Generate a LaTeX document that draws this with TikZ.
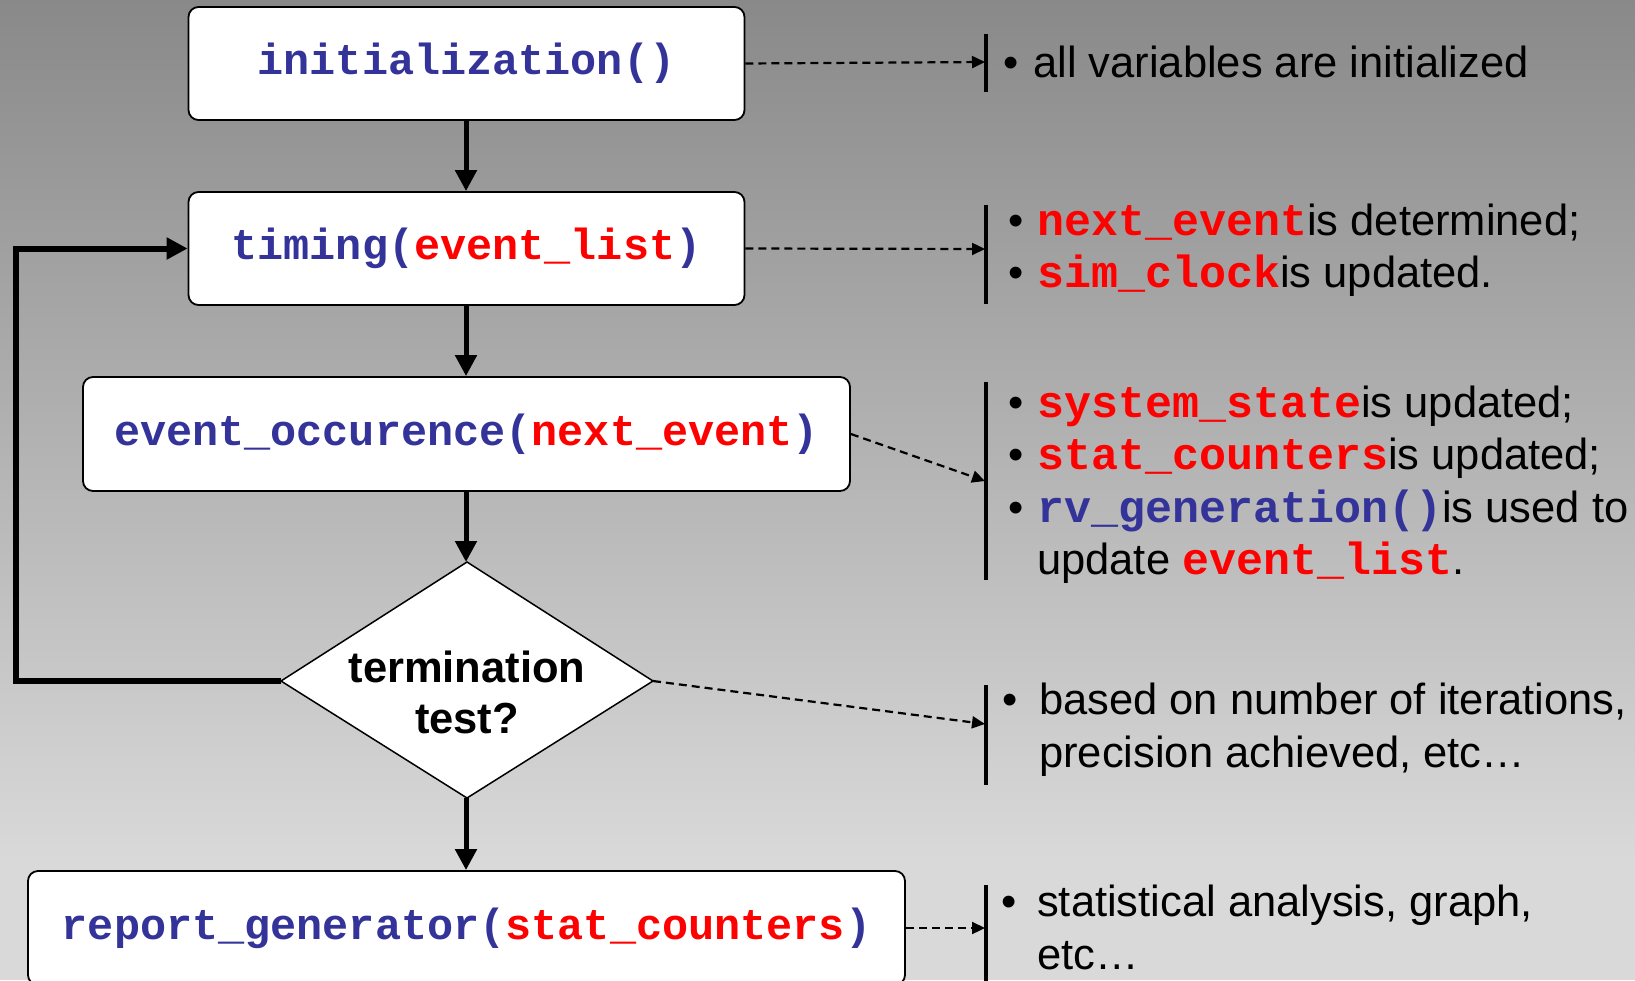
\documentclass[tikz,border=0pt]{standalone}
\usepackage{fontspec}
\setmainfont{Liberation Sans}
\newfontfamily\codefont{Liberation Mono}
\usetikzlibrary{arrows.meta}
\definecolor{cblue}{RGB}{51,51,153}
\definecolor{cred}{RGB}{255,0,0}
\definecolor{bgtop}{RGB}{137,137,137}
\definecolor{bgbot}{RGB}{217,217,217}
\newcommand\bl[1]{{\color{cblue}#1}}
\newcommand\rd[1]{{\color{cred}#1}}
\newcommand\low[1]{\raisebox{-3pt}{#1}}
\newcommand\rcode[1]{{\codefont\bfseries\fontsize{45}{52.5}\selectfont\color{cred}#1}}
\newcommand\bcode[1]{{\codefont\bfseries\fontsize{45}{52.5}\selectfont\color{cblue}#1}}
\newcommand\bul[1]{\makebox[#1][l]{•}}
\begin{document}
\begin{tikzpicture}[x=1pt,y=-1pt,
  box/.style={draw=black, line width=1.8pt, fill=white, rounded corners=10pt, inner sep=0pt,
    font=\codefont\bfseries\fontsize{43.5}{52}\selectfont},
  flow/.style={line width=5pt, -{Triangle[length=21pt,width=21pt]}},
  loopline/.style={line width=6pt, -{Triangle[length=21pt,width=21pt]}},
  note/.style={line width=2.2pt, dash pattern=on 8pt off 5pt, -{Triangle[length=13pt,width=12pt]}},
  bar/.style={line width=4pt},
  txt/.style={anchor=base west, inner sep=0pt, align=left, font=\fontsize{43.5}{52.5}\selectfont}]
\useasboundingbox (0,0) rectangle (1635,980);
\clip (0,0) rectangle (1635,980);
% background
\shade[top color=bgtop, bottom color=bgbot] (0,0) rectangle (1635,860);
\fill[bgbot] (0,859) rectangle (1635,980);

% boxes
\node[box, minimum width=556pt, minimum height=113pt] (init) at (466.5,63.5) {\low{\bl{initialization()}}};
\node[box, minimum width=556pt, minimum height=113pt] (timing) at (466.5,248.5) {\low{\bl{timing(}\rd{event\_list}\bl{)}}};
\node[box, minimum width=767pt, minimum height=114pt] (event) at (466.5,434) {\low{\bl{event\_occurence(}\rd{next\_event}\bl{)}}};
\node[box, minimum width=877pt, minimum height=114pt] (report) at (466.5,928) {\low{\bl{report\_generator(}\rd{stat\_counters}\bl{)}}};

% diamond
\coordinate (dt) at (467,562);
\coordinate (db) at (467,798);
\coordinate (dl) at (281,681);
\coordinate (dr) at (653,681);
\draw[line width=1.5pt, fill=white] (dt) -- (dr) -- (db) -- (dl) -- cycle;
\node[anchor=base, inner sep=0pt, align=center, font=\bfseries\fontsize{43.5}{51}\selectfont] (test) at (467,733) {termination\\test?};

% flow arrows
\draw[flow] (init.south -| 466,0) -- (timing.north -| 466,0);
\draw[flow] (timing.south -| 466,0) -- (event.north -| 466,0);
\draw[flow] (event.south -| 466,0) -- (dt -| 466,0);
\draw[flow] (db -| 466,0) -- (report.north -| 466,0);
\draw[loopline] (dl) -- (16,681) -- (16,248.5) -- (timing.west);

% bars
\coordinate (b1a) at (986,34);  \coordinate (b1b) at (986,92);
\coordinate (b2a) at (986,205); \coordinate (b2b) at (986,304);
\coordinate (b3a) at (986,382); \coordinate (b3b) at (986,580);
\coordinate (b4a) at (986,685); \coordinate (b4b) at (986,785);
\coordinate (b5a) at (986,885); \coordinate (b5b) at (986,990);
\draw[bar] (b1a) -- (b1b);
\draw[bar] (b2a) -- (b2b);
\draw[bar] (b3a) -- (b3b);
\draw[bar] (b4a) -- (b4b);
\draw[bar] (b5a) -- (b5b);

% note arrows
\coordinate (t1) at (985,62);
\coordinate (t2) at (985,249);
\coordinate (t3) at (985,481);
\coordinate (t4) at (985,724);
\coordinate (t5) at (985,928);
\draw[note] (init.east) -- (t1);
\draw[note] (timing.east) -- (t2);
\draw[note] (event.east |- 0,434) -- (t3);
\draw[note] (dr) -- (t4);
\draw[note] (report.east) -- (t5);

% notes (base anchor = baseline of last line)
\node[txt] (n1) at (1003,77) {\bul{30pt}all variables are initialized};
\node[txt] (n2) at (1008,287.5) {\bul{29pt}\rcode{next\_event}is determined;\\
  \bul{29pt}\rcode{sim\_clock}is updated.};
\node[txt] (n3) at (1008,574.5) {\bul{29pt}\rcode{system\_state}is updated;\\
  \bul{29pt}\rcode{stat\_counters}is updated;\\
  \bul{29pt}\bcode{rv\_generation()}is used to\\
  \hspace*{29pt}update \rcode{event\_list}.};
\node[txt] (n4) at (1002,767) {\bul{37pt}based on number of iterations,\\
  \hspace*{37pt}precision achieved, etc…};
\node[txt] (n5) at (1001,969) {\bul{36pt}statistical analysis, graph,\\
  \hspace*{36pt}etc…};
\end{tikzpicture}
\end{document}
